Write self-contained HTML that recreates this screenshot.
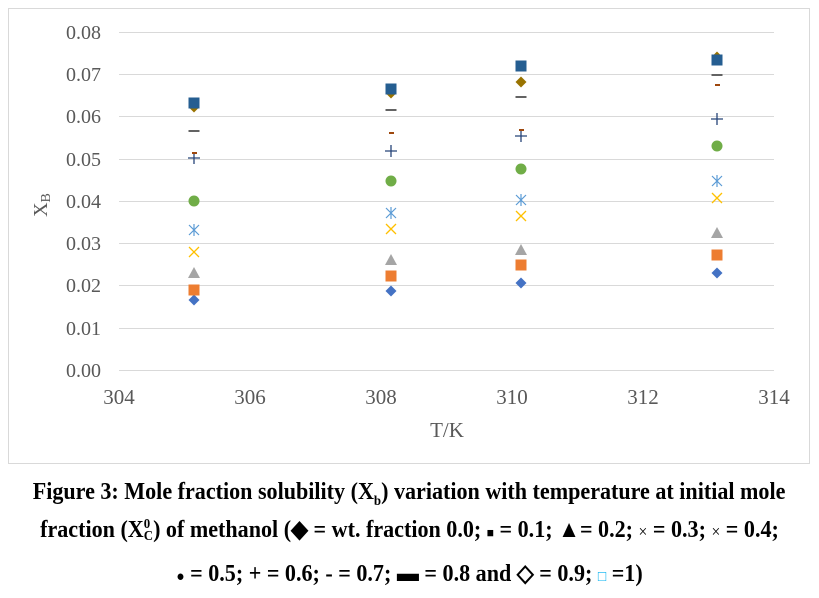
<!DOCTYPE html>
<html><head><meta charset="utf-8"><style>
body{margin:0;background:#fff;width:819px;height:598px;overflow:hidden;font-family:"Liberation Serif",serif}
.cap{position:absolute;left:0;width:819px;text-align:center;font-weight:bold;font-size:24px;color:#000;white-space:nowrap;line-height:28px}
.cap span.in{display:inline-block;transform:scaleX(0.92);transform-origin:center}
</style></head><body>
<svg width="819" height="598" style="position:absolute;left:0;top:0" font-family="Liberation Serif, serif">
<rect x="8.5" y="8.5" width="801" height="455" fill="#fff" stroke="#d9d9d9"/>
<g stroke="#d9d9d9" stroke-width="1">
<line x1="119" x2="774" y1="32.5" y2="32.5"/><line x1="119" x2="774" y1="74.5" y2="74.5"/>
<line x1="119" x2="774" y1="116.5" y2="116.5"/><line x1="119" x2="774" y1="159.5" y2="159.5"/>
<line x1="119" x2="774" y1="201.5" y2="201.5"/><line x1="119" x2="774" y1="243.5" y2="243.5"/>
<line x1="119" x2="774" y1="285.5" y2="285.5"/><line x1="119" x2="774" y1="328.5" y2="328.5"/>
<line x1="119" x2="774" y1="370.5" y2="370.5"/>
</g>
<g fill="#595959" font-size="20" text-anchor="end">
<text x="101" y="39">0.08</text><text x="101" y="81">0.07</text><text x="101" y="123">0.06</text>
<text x="101" y="166">0.05</text><text x="101" y="208">0.04</text><text x="101" y="250">0.03</text>
<text x="101" y="292">0.02</text><text x="101" y="335">0.01</text><text x="101" y="377">0.00</text>
</g>
<g fill="#595959" font-size="21" text-anchor="middle">
<text x="119" y="404">304</text><text x="250" y="404">306</text><text x="381" y="404">308</text>
<text x="512" y="404">310</text><text x="643" y="404">312</text><text x="774" y="404">314</text>
<text x="447" y="437">T/K</text>
</g>
<text transform="translate(47,205) rotate(-90)" fill="#595959" font-size="20" text-anchor="middle">X<tspan font-size="14" dy="3">B</tspan></text>
<defs>
<g id="dia"><polygon points="0,-5.5 5.5,0 0,5.5 -5.5,0" fill="#4472c4"/></g>
<g id="osq"><rect x="-5.5" y="-5.5" width="11" height="11" fill="#ed7d31"/></g>
<g id="tri"><polygon points="0,-6 6,5 -6,5" fill="#a5a5a5"/></g>
<g id="x"><path d="M-5,-5L5,5M5,-5L-5,5" stroke="#ffc000" stroke-width="1.3"/></g>
<g id="ast"><path d="M-5,-5L5,5M5,-5L-5,5M0,-6V6" stroke="#5b9bd5" stroke-width="1.2"/></g>
<g id="cir"><circle r="5.5" fill="#70ad47"/></g>
<g id="plus"><path d="M-6,0H6M0,-6V6" stroke="#264478" stroke-width="1.3"/></g>
<g id="od"><rect x="-2" y="-1" width="5" height="2" fill="#9e480e"/></g>
<g id="gd"><rect x="-5.5" y="-1" width="11" height="2" fill="#636363"/></g>
<g id="gold"><polygon points="0,-5.5 5.5,0 0,5.5 -5.5,0" fill="#997300"/></g>
<g id="bsq"><rect x="-5.5" y="-5.5" width="11" height="11" fill="#255e91"/></g>
</defs>
<use href="#dia" x="194" y="300"/><use href="#osq" x="194" y="290"/><use href="#tri" x="194" y="273"/><use href="#x" x="194" y="252"/><use href="#ast" x="194" y="230"/><use href="#cir" x="194" y="201"/><use href="#plus" x="194" y="158"/><use href="#od" x="194" y="153"/><use href="#gd" x="194" y="131"/><use href="#gold" x="194" y="107"/><use href="#bsq" x="194" y="103"/>
<use href="#dia" x="391" y="291"/><use href="#osq" x="391" y="276"/><use href="#tri" x="391" y="260"/><use href="#x" x="391" y="229"/><use href="#ast" x="391" y="213"/><use href="#cir" x="391" y="181"/><use href="#plus" x="391" y="151"/><use href="#od" x="391" y="133"/><use href="#gd" x="391" y="110"/><use href="#gold" x="391" y="93"/><use href="#bsq" x="391" y="89"/>
<use href="#dia" x="521" y="283"/><use href="#osq" x="521" y="265"/><use href="#tri" x="521" y="250"/><use href="#x" x="521" y="216"/><use href="#ast" x="521" y="200"/><use href="#cir" x="521" y="169"/><use href="#plus" x="521" y="136"/><use href="#od" x="521" y="130"/><use href="#gd" x="521" y="97"/><use href="#gold" x="521" y="82"/><use href="#bsq" x="521" y="66"/>
<use href="#dia" x="717" y="273"/><use href="#osq" x="717" y="255"/><use href="#tri" x="717" y="233"/><use href="#x" x="717" y="198"/><use href="#ast" x="717" y="181"/><use href="#cir" x="717" y="146"/><use href="#plus" x="717" y="119"/><use href="#od" x="717" y="85"/><use href="#gd" x="717" y="75"/><use href="#gold" x="717" y="57"/><use href="#bsq" x="717" y="60"/>
</svg>
<div class="cap" style="top:478px"><span class="in">Figure 3: Mole fraction solubility (X<sub style="font-size:14px">b</sub>) variation with temperature at initial mole</span></div>
<div class="cap" style="top:516px"><span class="in">fraction (X<span style="display:inline-block;position:relative;font-size:14px;vertical-align:-3px;line-height:1"><span style="position:absolute;top:-12px;left:0">0</span>C</span>) of methanol (◆ = wt. fraction 0.0; <span style="font-size:13px">■</span> = 0.1; ▲= 0.2; <span style="font-weight:normal;font-size:17px">×</span> = 0.3; <span style="font-weight:normal;font-size:17px">×</span> = 0.4;</span></div>
<div class="cap" style="top:560px"><span class="in"><span style="font-size:15px">●</span> = 0.5; + = 0.6; - = 0.7; ▬ = 0.8 and ◇ = 0.9; <span style="color:#00b0f0;font-weight:normal;font-size:15px">□</span> =1)</span></div>
</body></html>
